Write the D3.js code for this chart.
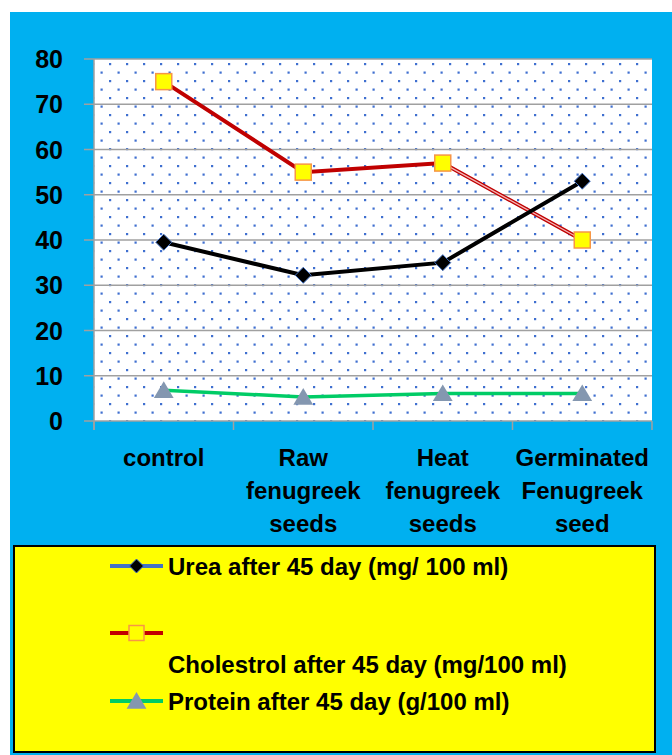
<!DOCTYPE html>
<html><head><meta charset="utf-8">
<script src="https://cdn.jsdelivr.net/npm/d3@7"></script>
<style>html,body{margin:0;padding:0;background:#fff;}svg{display:block;}</style>
</head><body>
<script>
const categories = [["control"], ["Raw","fenugreek","seeds"], ["Heat","fenugreek","seeds"], ["Germinated","Fenugreek","seed"]];
const urea = [39.5, 32.2, 35, 53];
const cholesterol = [75, 55, 57, 40];
const protein = [6.8, 5.3, 6.1, 6.1];
const yTicks = [0, 10, 20, 30, 40, 50, 60, 70, 80];
const legendLabels = ["Urea after 45 day (mg/ 100 ml)", "Cholestrol after 45 day (mg/100 ml)", "Protein after 45 day (g/100 ml)"];

const W = 672, H = 755;
const FONT = "'Liberation Sans', Arial, sans-serif";
const svg = d3.select("body").append("svg").attr("width", W).attr("height", H);

// background
svg.append("rect").attr("x", 10).attr("y", 12).attr("width", W - 10).attr("height", H - 12).attr("fill", "#00B0F0");

const defs = svg.append("defs");
const pat = defs.append("pattern").attr("id", "dots").attr("patternUnits", "userSpaceOnUse")
  .attr("x", 109).attr("y", 63).attr("width", 17).attr("height", 17);
pat.append("rect").attr("width", 17).attr("height", 17).attr("fill", "#fff");
pat.append("rect").attr("x", 0).attr("y", 0).attr("width", 2.2).attr("height", 2.2).attr("fill", "#3F6FD0");
pat.append("rect").attr("x", 8.5).attr("y", 8.5).attr("width", 2.2).attr("height", 2.2).attr("fill", "#3F6FD0");

const x = d3.scaleBand().domain(d3.range(categories.length)).range([94, 652]).padding(0);
const y = d3.scaleLinear().domain([0, 80]).range([421, 59]);
const cx = i => x(i) + x.bandwidth() / 2;

// plot area
svg.append("rect").attr("x", 94).attr("y", 59).attr("width", 652 - 94).attr("height", 421 - 59).attr("fill", "url(#dots)");

// gridlines
svg.append("g").selectAll("line").data(yTicks).join("line")
  .attr("x1", 84).attr("x2", 652).attr("y1", d => y(d)).attr("y2", d => y(d))
  .attr("stroke", "#A0A0A0").attr("stroke-width", 1.5);
// left axis
svg.append("line").attr("x1", 94).attr("x2", 94).attr("y1", 59).attr("y2", 430).attr("stroke", "#A0A0A0").attr("stroke-width", 1.5);
// x ticks at band boundaries
const bounds = d3.range(categories.length + 1).map(i => i < categories.length ? x(i) : x(i - 1) + x.bandwidth());
svg.append("g").selectAll("line").data(bounds).join("line")
  .attr("x1", d => d).attr("x2", d => d).attr("y1", 421).attr("y2", 430)
  .attr("stroke", "#A0A0A0").attr("stroke-width", 1.5);

// y labels
svg.append("g").selectAll("text").data(yTicks).join("text")
  .attr("x", 63).attr("y", d => y(d)).attr("dy", "0.36em").attr("text-anchor", "end")
  .attr("font-family", FONT).attr("font-weight", "bold").attr("font-size", 25).attr("fill", "#000")
  .text(d => d);

// x labels
const xl = svg.append("g").selectAll("text").data(categories).join("text")
  .attr("text-anchor", "middle").attr("font-family", FONT).attr("font-weight", "bold").attr("font-size", 24).attr("fill", "#000");
xl.each(function(lines, i) {
  d3.select(this).selectAll("tspan").data(lines).join("tspan")
    .attr("x", cx(i)).attr("y", (d, j) => 466 + j * 33).text(d => d);
});

const line = d3.line().x((d, i) => cx(i)).y(d => y(d));

// protein
svg.append("path").attr("d", line(protein)).attr("fill", "none").attr("stroke", "#00CC66").attr("stroke-width", 3.5);
// cholesterol
svg.append("path").attr("d", line(cholesterol)).attr("fill", "none").attr("stroke", "#C00000").attr("stroke-width", 4);
svg.append("line").attr("x1", cx(2)).attr("y1", y(cholesterol[2])).attr("x2", cx(3)).attr("y2", y(cholesterol[3]))
  .attr("stroke", "#F4B6B6").attr("stroke-width", 1.3);
// urea
svg.append("path").attr("d", line(urea)).attr("fill", "none").attr("stroke", "#000").attr("stroke-width", 4);

function diamond(g, px, py, s) {
  g.append("path").attr("d", `M${px},${py - s}L${px + s},${py}L${px},${py + s}L${px - s},${py}Z`)
    .attr("fill", "#000").attr("stroke", "#4472C4").attr("stroke-width", 1);
}
function square(g, px, py, s) {
  g.append("rect").attr("x", px - s).attr("y", py - s).attr("width", 2 * s).attr("height", 2 * s)
    .attr("fill", "#FFFF00").attr("stroke", "#F79646").attr("stroke-width", 1.5);
}
function tri(g, px, py, s) {
  g.append("path").attr("d", `M${px},${py - s}L${px + s * 1.1},${py + s * 0.85}L${px - s * 1.1},${py + s * 0.85}Z`)
    .attr("fill", "#8497B0");
}
const mk = svg.append("g");
protein.forEach((v, i) => tri(mk, cx(i), y(v), 9));
cholesterol.forEach((v, i) => square(mk, cx(i), y(v), 8));
urea.forEach((v, i) => diamond(mk, cx(i), y(v), 8));

// legend
svg.append("rect").attr("x", 14).attr("y", 546).attr("width", 641).attr("height", 206)
  .attr("fill", "#FFFF00").attr("stroke", "#000").attr("stroke-width", 2);
const lg = svg.append("g");
const lx1 = 110, lx2 = 163, lmid = 136.5;
lg.append("line").attr("x1", lx1).attr("x2", lx2).attr("y1", 566).attr("y2", 566).attr("stroke", "#4472C4").attr("stroke-width", 4);
diamond(lg, lmid, 566, 7);
lg.append("line").attr("x1", lx1).attr("x2", lx2).attr("y1", 633).attr("y2", 633).attr("stroke", "#C00000").attr("stroke-width", 4);
square(lg, lmid, 633, 7.5);
lg.append("line").attr("x1", lx1).attr("x2", lx2).attr("y1", 701).attr("y2", 701).attr("stroke", "#00CC66").attr("stroke-width", 4);
tri(lg, lmid, 701, 9);
const ly = [566, 664, 701];
lg.selectAll("text").data(legendLabels).join("text")
  .attr("x", 168).attr("y", (d, i) => ly[i]).attr("dy", "0.36em")
  .attr("font-family", FONT).attr("font-weight", "bold").attr("font-size", 24).attr("fill", "#000")
  .text(d => d);
</script>
</body></html>
